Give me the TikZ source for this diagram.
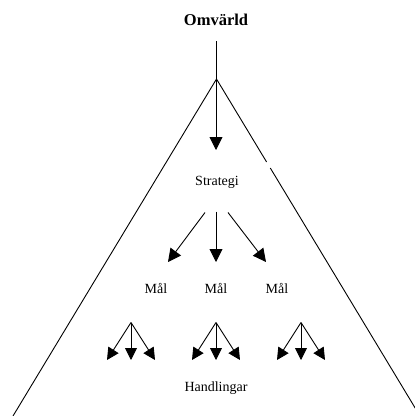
\documentclass[tikz,border=0pt]{standalone}
\usepackage{fontspec}
\setmainfont{Liberation Serif}
\usetikzlibrary{arrows.meta}
\begin{document}
\begin{tikzpicture}[x=1pt,y=-1pt,line width=0.9pt,
  lbl/.style={inner sep=0pt,font=\fontsize{14}{16}\selectfont},
  bigarrow/.style={-{Triangle[length=13pt,width=13pt]}},
  smallarrow/.style={-{Triangle[length=12pt,width=12pt]}}]
\useasboundingbox (0,0) rectangle (415,416);
\clip (0,0) rectangle (415,416);

% labels
\node[inner sep=0pt,font=\fontsize{16.5}{18}\selectfont\bfseries] (omv) at (216,20) {Omvärld};
\node[lbl] (strat) at (217,182) {Strategi};
\node[lbl] (mal1) at (156,288) {Mål};
\node[lbl] (mal2) at (216,288) {Mål};
\node[lbl] (mal3) at (277,288) {Mål};
\node[lbl] (hand) at (216,388) {Handlingar};

% the triangle
\coordinate (top) at (216,41);
\coordinate (apex) at (216.5,79);
\coordinate (bl) at (13,416);
\coordinate (gapA) at (266.6,162);
\coordinate (gapB) at (270.3,168);
\coordinate (br) at (420,416);
\draw (apex) -- (bl);
\draw (apex) -- (gapA);
\draw (gapB) -- (br);

% environment -> strategy
\coordinate (stip) at (216,150);
\draw[bigarrow] (top) -- (stip);

% strategy -> goals
\coordinate (s1) at (205,212.5);
\coordinate (s2) at (216,211.5);
\coordinate (s3) at (228,212.5);
\coordinate (m1) at (168,262);
\coordinate (m2) at (216,262);
\coordinate (m3) at (266,262);
\draw[bigarrow] (s1) -- (m1);
\draw[bigarrow] (s2) -- (m2);
\draw[bigarrow] (s3) -- (m3);

% goals -> actions
\foreach \i/\x in {1/131,2/216,3/301}{
  \coordinate (g\i) at (\x,322.5);
  \coordinate (g\i a) at (\x-24,360);
  \coordinate (g\i b) at (\x,360);
  \coordinate (g\i c) at (\x+24,360);
  \draw[smallarrow] (g\i) -- (g\i a);
  \draw[smallarrow] (g\i) -- (g\i b);
  \draw[smallarrow] (g\i) -- (g\i c);
}
\end{tikzpicture}
\end{document}
